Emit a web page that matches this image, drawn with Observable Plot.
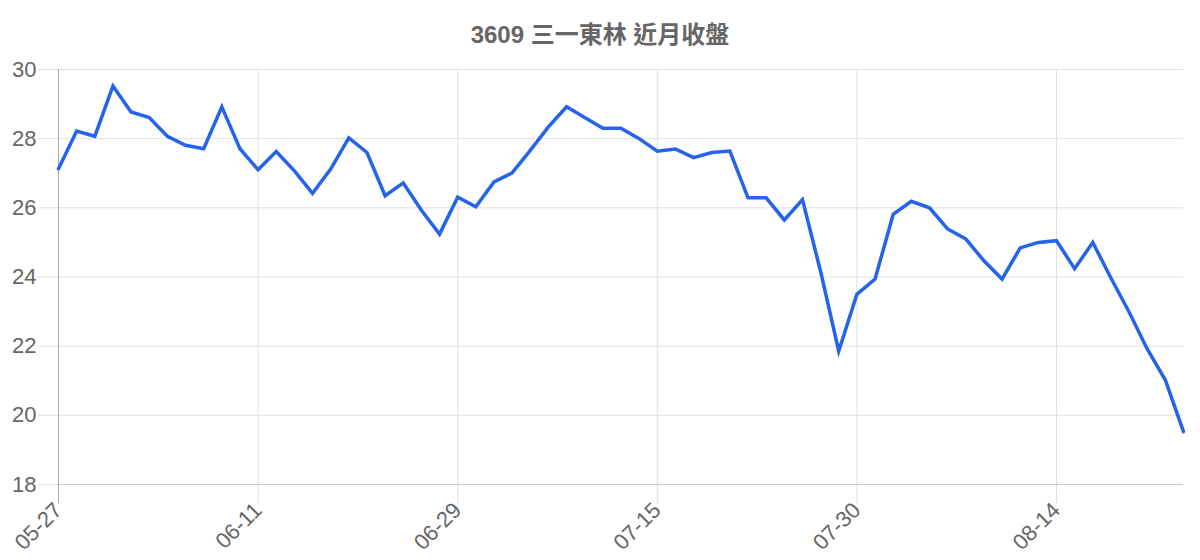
<!DOCTYPE html>
<html>
<head>
<meta charset="utf-8">
<script src="https://cdn.jsdelivr.net/npm/d3@7"></script>
<script src="https://cdn.jsdelivr.net/npm/@observablehq/plot@0.6"></script>
<style>
  html, body { margin: 0; padding: 0; background: #fff; }
  body { width: 1200px; height: 560px; overflow: hidden; font-family: "Liberation Sans", "Noto Sans CJK TC", sans-serif; }
  #title { height: 56px; box-sizing: border-box; padding-top: 23px; line-height: 24px; font-size: 24px; font-weight: bold; color: #666; text-align: center; }
</style>
</head>
<body>
<div id="title">3609 三一東林 近月收盤</div>
<div id="chart"></div>
<script>
const dates = [
  "05-27","05-28","05-29","06-01","06-02","06-03","06-04","06-05","06-08","06-09","06-10",
  "06-11","06-12","06-15","06-16","06-17","06-18","06-19","06-20","06-22","06-23","06-24",
  "06-29","06-30","07-01","07-02","07-03","07-06","07-07","07-08","07-09","07-10","07-13",
  "07-15","07-16","07-17","07-20","07-21","07-22","07-23","07-24","07-27","07-28","07-29",
  "07-30","07-31","08-03","08-04","08-05","08-06","08-07","08-10","08-11","08-12","08-13",
  "08-14","08-17","08-18","08-19","08-20","08-21","08-24","08-25"
];
const closes = [
  27.13, 28.22, 28.07, 29.52, 28.77, 28.61, 28.07, 27.81, 27.71, 28.92, 27.71,
  27.10, 27.63, 27.07, 26.42, 27.12, 28.02, 27.60, 26.35, 26.72, 25.93, 25.24,
  26.31, 26.03, 26.75, 27.01, 27.66, 28.34, 28.92, 28.61, 28.30, 28.30, 28.00,
  27.64, 27.70, 27.45, 27.60, 27.64, 26.29, 26.29, 25.65, 26.24, 24.16, 21.86,
  23.50, 23.94, 25.81, 26.19, 26.00, 25.39, 25.10, 24.47, 23.94, 24.84, 25.00,
  25.05, 24.24, 25.00, 23.97, 22.99, 21.92, 21.02, 19.53
];
const xTickLabels = ["05-27","06-11","06-29","07-15","07-30","08-14"];
const yTicks = [18, 20, 22, 24, 26, 28, 30];

const data = dates.map((d, i) => ({date: d, close: closes[i]}));
const grid = "#e0e0e0";

const chart = Plot.plot({
  width: 1200,
  height: 504,
  marginTop: 13,
  marginBottom: 76,
  marginLeft: 58,
  marginRight: 17,
  style: {fontFamily: "'Liberation Sans', 'Noto Sans CJK TC', sans-serif", background: "#fff"},
  x: {type: "point", domain: dates, padding: 0, round: false},
  y: {domain: [18, 30]},
  marks: [
    Plot.gridY(yTicks, {stroke: grid, strokeOpacity: 1}),
    Plot.gridX(xTickLabels, {stroke: grid, strokeOpacity: 1}),
    Plot.axisY({ticks: yTicks, tickSize: 20, tickPadding: 2, stroke: grid, fill: "#666", fontSize: 22, label: null}),
    Plot.axisX({ticks: xTickLabels, tickSize: 19, tickPadding: 3, tickRotate: -45, stroke: grid, fill: "#666", fontSize: 22, label: null}),
    Plot.ruleY([18], {stroke: "#c8c8c8"}),
    Plot.ruleX([dates[0]], {y1: 30, y2: 18, insetBottom: -19, stroke: "#aaa"}),
    Plot.lineY(data, {x: "date", y: "close", stroke: "#2563eb", strokeWidth: 3.5, strokeLinejoin: "miter", strokeMiterlimit: 4})
  ]
});
document.getElementById("chart").appendChild(chart);
</script>
</body>
</html>
